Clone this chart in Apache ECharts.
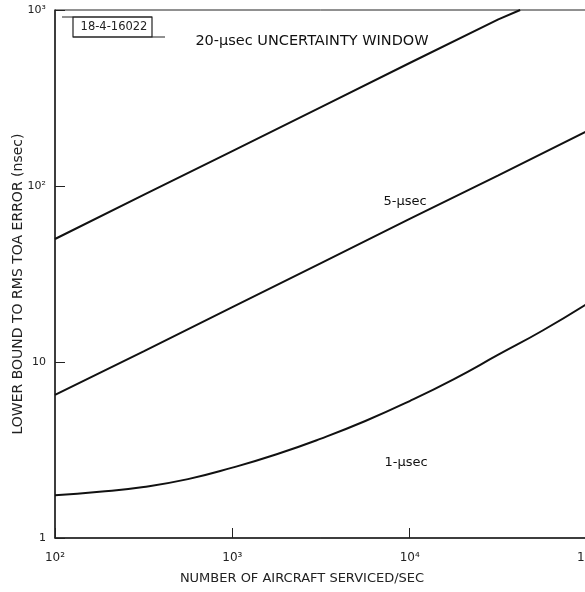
<!DOCTYPE html>
<html>
<head>
<meta charset="utf-8">
<script src="https://cdn.jsdelivr.net/npm/echarts@6/dist/echarts.min.js"></script>
<style>
  html, body { margin: 0; padding: 0; background: #fff; }
  #chart { width: 585px; height: 592px; }
</style>
</head>
<body>
<div id="chart"></div>
<script>
// aircraft serviced per second (x) and RMS TOA error bound in nsec (y)
const window20X = [100, 316, 1000, 3162, 10000, 31623, 42000];
const window20Y = [50, 89, 158, 281, 500, 885, 1000];

const window5X = [100, 316, 1000, 3162, 10000, 31623, 100000];
const window5Y = [6.5, 11.5, 20.5, 36.5, 65, 115, 205];

const window1X = [100, 178, 316, 562, 1000, 1778, 3162, 5623, 10000, 17783, 31623, 56234, 100000];
const window1Y = [1.75, 1.83, 1.95, 2.16, 2.51, 2.99, 3.67, 4.62, 6.0, 8.0, 11.0, 15.1, 21.4];

const xTickLabels = { 100: '10²', 1000: '10³', 10000: '10⁴', 100000: '10⁵' };
const yTickLabels = { 1: '1', 10: '10', 100: '10²', 1000: '10³' };

const pairs = (xs, ys) => xs.map((x, i) => [x, ys[i]]);

const font = 'DejaVu Sans';
const chart = echarts.init(document.getElementById('chart'));

const lineStyle = { color: '#111', width: 2 };

chart.setOption({
    backgroundColor: '#fff',
    animation: false,
    grid: {
        left: 55, top: 10, width: 532, height: 528,
        containLabel: false, outerBoundsMode: 'none',
        show: true, borderColor: '#222', borderWidth: 1
    },
    xAxis: {
        type: 'log', logBase: 10, min: 100, max: 100000,
        name: 'NUMBER OF AIRCRAFT SERVICED/SEC',
        nameLocation: 'middle', nameGap: 34,
        nameTextStyle: { fontFamily: font, fontSize: 13, color: '#222', padding: [0, 38, 0, 0] },
        axisLine: { lineStyle: { color: '#222', width: 1.5 } },
        axisTick: { inside: true, length: 10, lineStyle: { color: '#222' } },
        minorTick: { show: false },
        splitLine: { show: false },
        axisLabel: {
            margin: 14, fontFamily: font, fontSize: 12, color: '#222',
            formatter: v => xTickLabels[Math.round(v)] || ''
        }
    },
    yAxis: {
        type: 'log', logBase: 10, min: 1, max: 1000,
        name: 'LOWER BOUND TO RMS TOA ERROR (nsec)',
        nameLocation: 'middle', nameGap: 30, nameMoveOverlap: false,
        nameTextStyle: { fontFamily: font, fontSize: 14, color: '#222', padding: [0, 20, 0, 0] },
        axisLine: { lineStyle: { color: '#222', width: 1.5 } },
        axisTick: { inside: true, length: 10, lineStyle: { color: '#222' } },
        minorTick: { show: false },
        splitLine: { show: false },
        axisLabel: {
            margin: 9, fontFamily: font, fontSize: 11, color: '#222',
            formatter: v => yTickLabels[Math.round(v)] || ''
        }
    },
    series: [
        { name: '20-µsec', type: 'line', symbol: 'none', lineStyle, data: pairs(window20X, window20Y) },
        { name: '5-µsec', type: 'line', symbol: 'none', lineStyle, data: pairs(window5X, window5Y) },
        { name: '1-µsec', type: 'line', smooth: true, symbol: 'none', lineStyle, data: pairs(window1X, window1Y) }
    ],
    graphic: [
        { type: 'rect', shape: { x: 73, y: 17, width: 79, height: 20 }, style: { fill: '#fff', stroke: '#222', lineWidth: 1.2 } },
        { type: 'line', shape: { x1: 62, y1: 17, x2: 152, y2: 17 }, style: { stroke: '#222', lineWidth: 1 } },
        { type: 'line', shape: { x1: 73, y1: 37, x2: 165, y2: 37 }, style: { stroke: '#222', lineWidth: 1 } },
        { type: 'text', x: 114, y: 27, style: { text: '18-4-16022', font: '11.5px ' + font, fill: '#222', align: 'center', verticalAlign: 'middle' } },
        { type: 'text', x: 312, y: 41, style: { text: '20-µsec UNCERTAINTY WINDOW', font: '14.5px ' + font, fill: '#111', align: 'center', verticalAlign: 'middle' } },
        { type: 'text', x: 405, y: 202, style: { text: '5-µsec', font: '13px ' + font, fill: '#111', align: 'center', verticalAlign: 'middle' } },
        { type: 'text', x: 406, y: 463, style: { text: '1-µsec', font: '13px ' + font, fill: '#111', align: 'center', verticalAlign: 'middle' } }
    ]
});

window.addEventListener('resize', function () {
    chart.resize();
});
</script>
</body>
</html>
